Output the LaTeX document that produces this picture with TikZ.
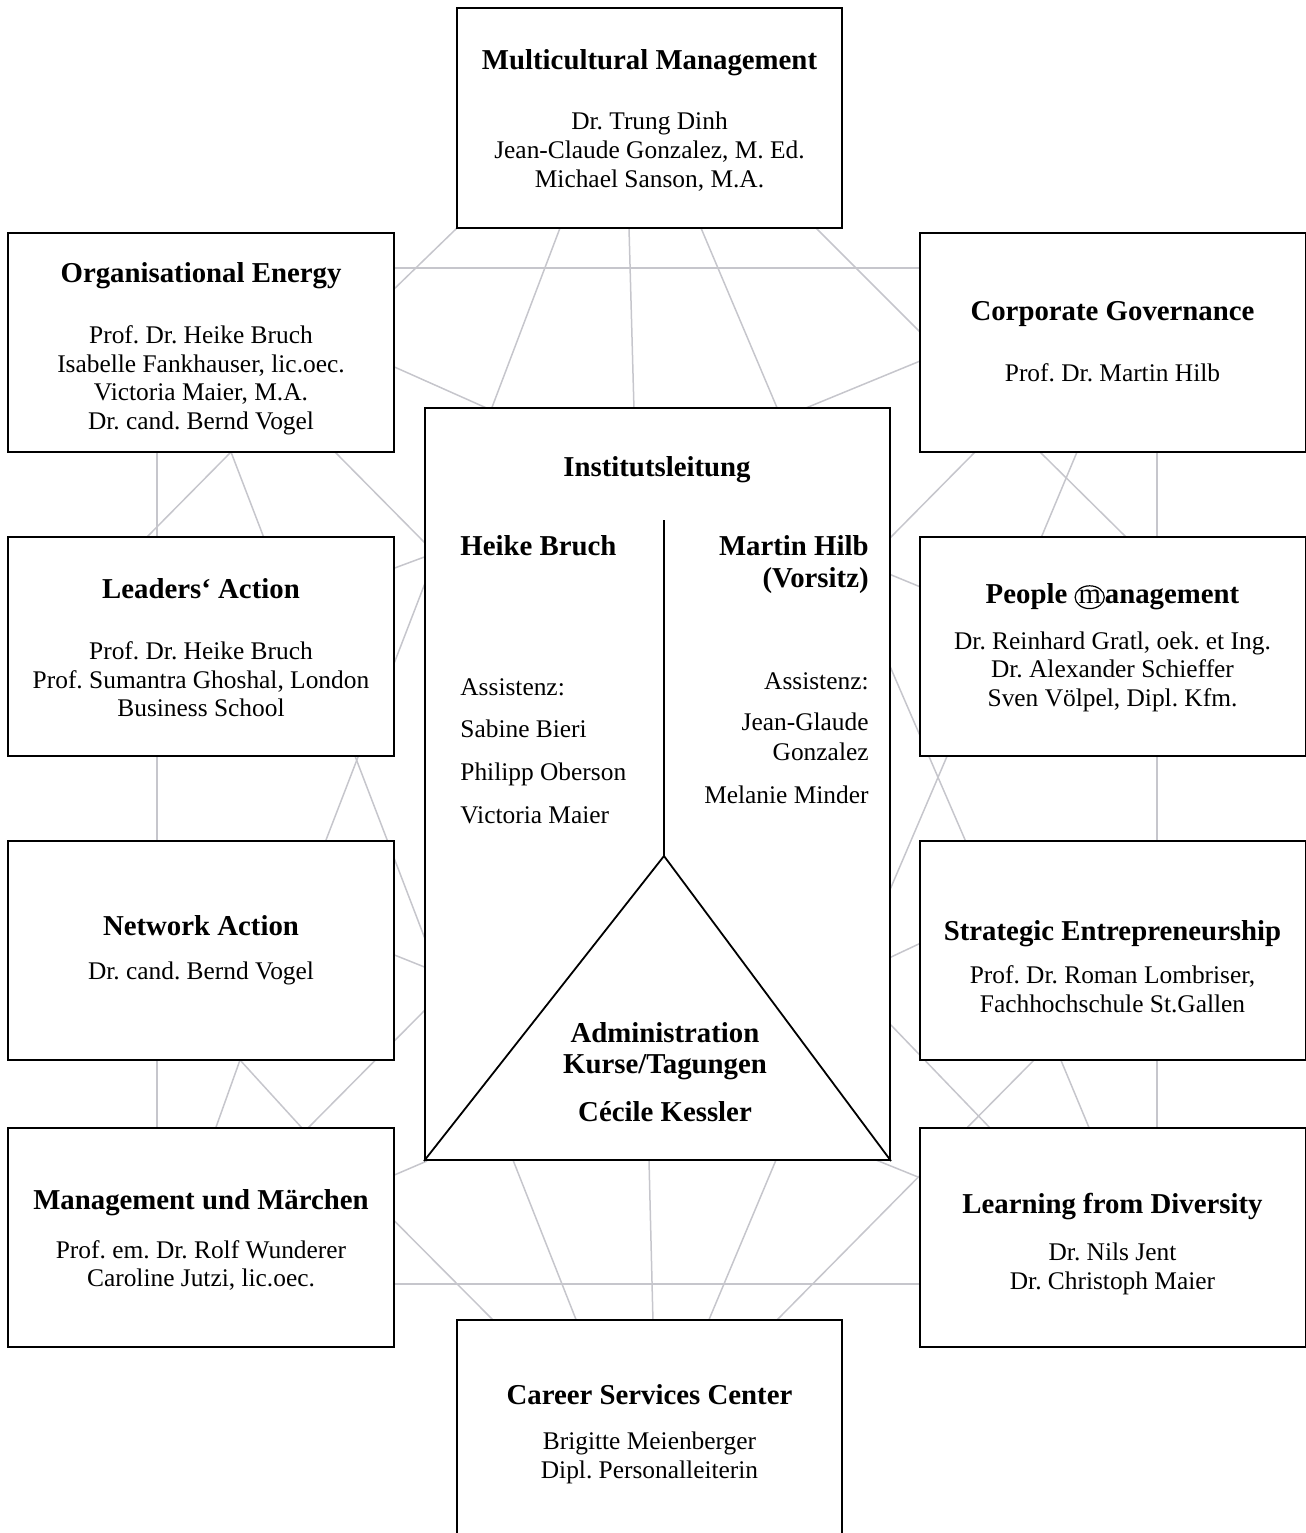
\documentclass[tikz,border=0pt]{standalone}
\usepackage{fontspec}
\setmainfont{Liberation Serif}
\definecolor{webgray}{RGB}{198,198,204}
\newcommand\circm{\tikz[baseline=(cm.base)]{\node[inner sep=0pt, anchor=base, font=\mdseries] (cm) at (0,0) {m}; \draw[line width=0.6pt] ([yshift=2.9pt]cm.base) ellipse [x radius=7.3pt, y radius=5.7pt];}}
\frenchspacing
\begin{document}
\frenchspacing
\begin{tikzpicture}[x=0.5pt, y=-0.5pt,
  box/.style={draw, line width=1pt, fill=white, inner sep=0pt, minimum width=193pt, minimum height=109.5pt},
  web/.style={draw=webgray, line width=0.75pt},
  ttl/.style={font=\fontsize{14.4}{17}\selectfont\bfseries, anchor=base, inner sep=0pt},
  txt/.style={font=\fontsize{12.7}{14.5}\selectfont, anchor=base, inner sep=0pt},
  dark/.style={draw, line width=0.9pt}]
\useasboundingbox (0,0) rectangle (1306,1533);
% ---------- web of gray lines (behind boxes) ----------
\draw[web] (157,440) -- (157,1140);
\draw[web] (1157,440) -- (1157,1140);
\draw[web] (390,268) -- (925,268);
\draw[web] (390,1284) -- (925,1284);
% top
\draw[web] (457,228) -- (390,293);
\draw[web] (560,228) -- (491,410);
\draw[web] (629,228) -- (634,410);
\draw[web] (701,228) -- (778,410);
\draw[web] (816,228) -- (925,337);
\draw[web] (390,365) -- (491,410);
\draw[web] (925,359) -- (801,410);
% left
\draw[web] (231,452) -- (146,538);
\draw[web] (231,452) -- (264,538);
\draw[web] (335,452) -- (427,545);
\draw[web] (392,569) -- (427,556);
\draw[web] (326,840) -- (427,578);
\draw[web] (355,756) -- (427,944);
\draw[web] (392,954) -- (427,968);
\draw[web] (427,1008) -- (306,1130);
\draw[web] (240,1060) -- (215,1130);
\draw[web] (240,1060) -- (302,1128) -- (495,1322);
\draw[web] (392,1176) -- (427,1161);
% right
\draw[web] (975,452) -- (889,539);
\draw[web] (1077,452) -- (1041,538);
\draw[web] (1040,452) -- (1127,538);
\draw[web] (889,574) -- (923,588);
\draw[web] (889,664) -- (966,842);
\draw[web] (948,754) -- (889,892);
\draw[web] (889,958) -- (923,942);
\draw[web] (889,1023) -- (992,1130);
\draw[web] (1036,1058) -- (775,1322);
\draw[web] (1060,1058) -- (1090,1130);
\draw[web] (876,1160) -- (923,1179);
% bottom
\draw[web] (513,1160) -- (577,1322);
\draw[web] (649,1160) -- (653,1322);
\draw[web] (776,1160) -- (708,1322);
% ---------- boxes ----------
\node[box, minimum width=192.5pt, minimum height=110pt] (mm) at (649.5,118) {};
\node[box] (oe) at (201,342.5) {};
\node[box] (cg) at (1112.5,342.5) {};
\node[box] (la) at (201,646) {};
\node[box] (pm) at (1112.5,646) {};
\node[box] (na) at (201,950) {};
\node[box] (se) at (1112.5,950) {};
\node[box] (mum) at (201,1237.5) {};
\node[box] (ld) at (1112.5,1237.5) {};
\node[box, minimum width=192.5pt, minimum height=112.5pt] (csc) at (649.5,1432.5) {};
\node[box, minimum width=232.5pt, minimum height=376pt] (ctr) at (657.5,784) {};
% central structure
\coordinate (apex) at (664,856);
\coordinate (divtop) at (664,520);
\draw[dark] (divtop) -- (apex);
\draw[dark] (ctr.south west) -- (apex) -- (ctr.south east);
% ---------- texts ----------
% Multicultural Management
\node[ttl] (mmt) at (649.5,69) {Multicultural Management};
\node[txt] (mm1) at (649.5,129) {Dr. Trung Dinh};
\node[txt] (mm2) at (649.5,158) {Jean-Claude Gonzalez, M. Ed.};
\node[txt] (mm3) at (649.5,187) {Michael Sanson, M.A.};
% Organisational Energy
\node[ttl] (oet) at (201,282) {Organisational Energy};
\node[txt] (oe1) at (201,343) {Prof. Dr. Heike Bruch};
\node[txt] (oe2) at (201,372) {Isabelle Fankhauser, lic.oec.};
\node[txt] (oe3) at (201,400) {Victoria Maier, M.A.};
\node[txt] (oe4) at (201,429) {Dr. cand. Bernd Vogel};
% Corporate Governance
\node[ttl] (cgt) at (1112.5,320) {Corporate Governance};
\node[txt] (cg1) at (1112.5,381) {Prof. Dr. Martin Hilb};
% Leaders' Action
\node[ttl] (lat) at (201,598) {Leaders‘ Action};
\node[txt] (la1) at (201,659) {Prof. Dr. Heike Bruch};
\node[txt] (la2) at (201,688) {Prof. Sumantra Ghoshal, London};
\node[txt] (la3) at (201,716) {Business School};
% People Management
\node[ttl] (pmt) at (1112.5,603) {People \circm anagement};
\node[txt] (pm1) at (1112.5,649) {Dr. Reinhard Gratl, oek. et Ing.};
\node[txt] (pm2) at (1112.5,677) {Dr. Alexander Schieffer};
\node[txt] (pm3) at (1112.5,706) {Sven Völpel, Dipl. Kfm.};
% Network Action
\node[ttl] (nat) at (201,935) {Network Action};
\node[txt] (na1) at (201,979) {Dr. cand. Bernd Vogel};
% Strategic Entrepreneurship
\node[ttl] (set) at (1112.5,940) {Strategic Entrepreneurship};
\node[txt] (se1) at (1112.5,983) {Prof. Dr. Roman Lombriser,};
\node[txt] (se2) at (1112.5,1012) {Fachhochschule St.Gallen};
% Management und Maerchen
\node[ttl] (mumt) at (201,1209) {Management und Märchen};
\node[txt] (mum1) at (201,1258) {Prof. em. Dr. Rolf Wunderer};
\node[txt] (mum2) at (201,1286) {Caroline Jutzi, lic.oec.};
% Learning from Diversity
\node[ttl] (ldt) at (1112.5,1213) {Learning from Diversity};
\node[txt] (ld1) at (1112.5,1260) {Dr. Nils Jent};
\node[txt] (ld2) at (1112.5,1289) {Dr. Christoph Maier};
% Career Services Center
\node[ttl] (csct) at (649.5,1404) {Career Services Center};
\node[txt] (csc1) at (649.5,1449) {Brigitte Meienberger};
\node[txt] (csc2) at (649.5,1478) {Dipl. Personalleiterin};
% Institutsleitung
\node[ttl] (ilt) at (657,476) {Institutsleitung};
\node[ttl, anchor=base west] (hb) at (460,555) {Heike Bruch};
\node[ttl, anchor=base east] (mh) at (869,555) {Martin Hilb};
\node[ttl, anchor=base east] (vs) at (869,587) {(Vorsitz)};
\node[txt, anchor=base west] (hb0) at (460,695) {Assistenz:};
\node[txt, anchor=base west] (hb1) at (460,737) {Sabine Bieri};
\node[txt, anchor=base west] (hb2) at (460,780) {Philipp Oberson};
\node[txt, anchor=base west] (hb3) at (460,823) {Victoria Maier};
\node[txt, anchor=base east] (mh0) at (869,689) {Assistenz:};
\node[txt, anchor=base east] (mh1) at (869,730) {Jean-Glaude};
\node[txt, anchor=base east] (mh2) at (869,760) {Gonzalez};
\node[txt, anchor=base east] (mh3) at (869,803) {Melanie Minder};
% Administration
\node[ttl] (ad1) at (665,1042) {Administration};
\node[ttl] (ad2) at (665,1073) {Kurse/Tagungen};
\node[ttl] (ad3) at (665,1121) {Cécile Kessler};
\end{tikzpicture}
\end{document}
